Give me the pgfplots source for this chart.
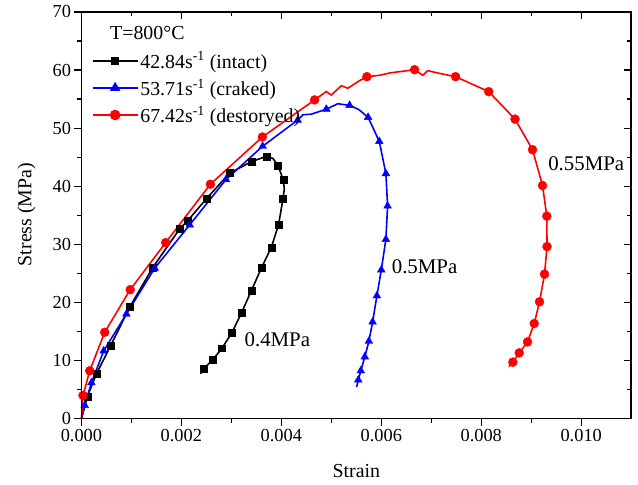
\documentclass[border=0pt]{standalone}
\usepackage{fontspec}
\setmainfont{Liberation Serif}
\usepackage{pgfplots}
\pgfplotsset{compat=1.18}
\begin{document}
\begin{tikzpicture}
\pgfplotsset{
  common/.style={
    scale only axis, width=551.6bp, height=408bp,
    xmin=0, xmax=0.011, ymin=0, ymax=70,
    axis line style={line width=1.6bp},
    xtick={0,0.002,0.004,0.006,0.008,0.010},
    ytick={0,10,20,30,40,50,60,70},
    minor x tick num=1, minor y tick num=1,
    major tick length=7bp, minor tick length=4bp,
    tick style={line width=1.2bp, black},
    scaled x ticks=false,
  }
}
\begin{axis}[common,
  clip=false,
  tick align=outside, xtick pos=bottom, ytick pos=left,
  /pgf/number format/assume math mode=true,
  xticklabel style={/pgf/number format/.cd, fixed, fixed zerofill, precision=3},
  tick label style={font=\fontsize{18.5}{21}\selectfont},
  label style={font=\fontsize{20}{24}\selectfont},
  xlabel={Strain}, ylabel={Stress (MPa)},
  x label style={at={(axis description cs:0.5,-0.13)}, anchor=center},
  y label style={at={(axis description cs:-0.0997,0.502)}, anchor=center},
  legend image code/.code={\draw[mark repeat=2,mark phase=2,#1] plot coordinates {(0bp,0bp) (22.5bp,0bp) (45bp,0bp)};},
  legend style={at={(axis description cs:0.0187,0.9076)}, anchor=north west, draw=none, fill=none,
    font=\fontsize{20}{24}\selectfont, inner sep=0pt, row sep=5bp, nodes={inner sep=2bp}},
  legend cell align=left,
]
% black: 42.84 s^-1 (intact)
\addplot[black, line width=1.6bp, forget plot] coordinates {
(0,0) (0.00012,3.82) (0.00030,7.71) (0.000586,12.57) (0.000966,19.20) (0.001432,26.06)
(0.001966,32.66) (0.002132,34.12) (0.0025,37.84) (0.002966,42.26) (0.0034,44.23) (0.0037,45.14)
(0.00383,44.8) (0.003932,43.55) (0.00404,41.09) (0.00406,39.5) (0.004032,37.80) (0.003946,33.43)
(0.0038,29.49) (0.003606,26.01) (0.0034,22.03) (0.003206,18.26) (0.003012,14.80) (0.002812,12.12)
(0.002626,10.11) (0.002452,8.62) (0.002386,7.71)};
\addplot[black, only marks, mark=square*, mark size=3.5bp, forget plot] coordinates {
(0.00012,3.82) (0.00030,7.71) (0.000586,12.57) (0.000966,19.20) (0.001432,26.06)
(0.001966,32.66) (0.002132,34.12) (0.0025,37.84) (0.002966,42.26) (0.0034,44.23) (0.0037,45.14)
(0.003932,43.55) (0.00404,41.09) (0.004032,37.80) (0.003946,33.43)
(0.0038,29.49) (0.003606,26.01) (0.0034,22.03) (0.003206,18.26) (0.003012,14.80) (0.002812,12.12)
(0.002626,10.11) (0.002452,8.62)};
% blue: 53.71 s^-1 (craked)
\addplot[blue, line width=1.6bp, forget plot] coordinates {
(0,0) (0.000066,2.28) (0.0002,6.17) (0.000446,11.66) (0.0009,18.0) (0.001466,25.89)
(0.002166,33.34) (0.002892,41.15) (0.003626,46.89) (0.004326,51.38) (0.00443,52.3) (0.0046,52.4)
(0.0049,53.27) (0.00513,54.2) (0.005366,53.92) (0.00555,53.2) (0.005736,51.86) (0.00596,47.71)
(0.006092,42.17) (0.006126,36.60) (0.006092,30.86) (0.006,25.60) (0.005912,21.14) (0.005826,16.63)
(0.005752,13.32) (0.00567,10.63) (0.00559,8.23) (0.00554,6.65) (0.005506,5.43)};
\addplot[blue, only marks, mark=triangle*, mark size=4.5bp, forget plot] coordinates {
(0.000066,2.28) (0.0002,6.17) (0.000446,11.66) (0.0009,18.0) (0.001466,25.89)
(0.002166,33.34) (0.002892,41.15) (0.003626,46.89) (0.004326,51.38)
(0.0049,53.27) (0.005366,53.92) (0.005736,51.86) (0.00596,47.71)
(0.006092,42.17) (0.006126,36.60) (0.006092,30.86) (0.006,25.60) (0.005912,21.14) (0.005826,16.63)
(0.005752,13.32) (0.00567,10.63) (0.00559,8.23) (0.00554,6.65)};
% red: 67.42 s^-1 (destoryed)
\addplot[red, line width=1.6bp, forget plot] coordinates {
(0,0) (0.000032,3.99) (0.000166,8.23) (0.000466,14.86) (0.000976,22.20) (0.001686,30.29)
(0.00258,40.34) (0.00362,48.47) (0.004666,54.86) (0.0049,56.3) (0.005,55.7) (0.0052,57.3)
(0.00533,56.86) (0.00557,58.2) (0.005712,58.86) (0.00597,59.1) (0.00617,59.5) (0.006666,60.06)
(0.00683,59.1) (0.00693,59.9) (0.0071,59.55) (0.007486,58.86) (0.00815,56.28) (0.008676,51.55)
(0.009026,46.29) (0.009226,40.12) (0.009312,34.85) (0.009316,29.61) (0.009266,24.86) (0.009166,20.11)
(0.00906,16.37) (0.008926,13.20) (0.00876,11.31) (0.008632,9.72) (0.008556,8.91)};
\addplot[red, only marks, mark=*, mark size=4.5bp, forget plot] coordinates {
(0.000032,3.99) (0.000166,8.23) (0.000466,14.86) (0.000976,22.20) (0.001686,30.29)
(0.00258,40.34) (0.00362,48.47) (0.004666,54.86) (0.005712,58.86) (0.006666,60.06)
(0.007486,58.86) (0.00815,56.28) (0.008676,51.55)
(0.009026,46.29) (0.009226,40.12) (0.009312,34.85) (0.009316,29.61) (0.009266,24.86) (0.009166,20.11)
(0.00906,16.37) (0.008926,13.20) (0.00876,11.31) (0.008632,9.72)};
\addlegendimage{black, line width=1.6bp, mark=square*, mark size=3.5bp}
\addlegendentry{42.84s\textsuperscript{-1} (intact)}
\addlegendimage{blue, line width=1.6bp, mark=triangle*, mark size=4.5bp}
\addlegendentry{53.71s\textsuperscript{-1} (craked)}
\addlegendimage{red, line width=1.6bp, mark=*, mark size=4.5bp}
\addlegendentry{67.42s\textsuperscript{-1} (destoryed)}
\node[anchor=west, font=\fontsize{20}{24}\selectfont] at (axis cs:0.000506,66.35) {T=800°C};
\node[font=\fontsize{21}{25}\selectfont] at (axis cs:0.00392,13.6) {0.4MPa};
\node[font=\fontsize{21}{25}\selectfont] at (axis cs:0.006866,26.2) {0.5MPa};
\node[font=\fontsize{21}{25}\selectfont] at (axis cs:0.0101,43.9) {0.55MPa};
\end{axis}
\begin{axis}[common,
  tick align=inside, xtick pos=top, ytick pos=right,
  xticklabels={}, yticklabels={},
]
\addplot[draw=none] coordinates {(0,0)};
\end{axis}
\path (current axis.south west) ++(-81.7bp,-66bp) rectangle ++(638bp,486bp);
\end{tikzpicture}
\end{document}
